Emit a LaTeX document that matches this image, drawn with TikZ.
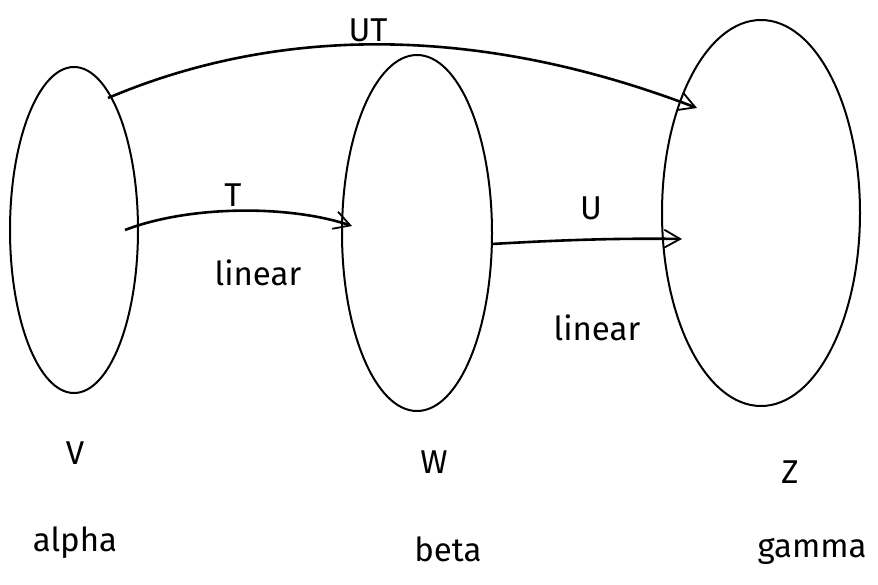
\documentclass[tikz,border=0pt]{standalone}
\usepackage{fontspec}
\setmainfont{Fira Sans}
\usetikzlibrary{shapes.geometric,arrows.meta}
\tikzset{
  setbox/.style={draw, line width=2pt, ellipse, inner sep=0pt},
  maparrow/.style={line width=2.6pt, -{Straight Barb[length=16pt,width=18pt,line width=1.8pt]}},
  lbl/.style={font=\fontsize{33}{38}\selectfont, inner sep=0pt}
}
\begin{document}
\begin{tikzpicture}[x=1pt,y=-1pt]
\useasboundingbox (0,0) rectangle (878,584);
\node[setbox, minimum width=128pt, minimum height=326pt] (V) at (74,230) {};
\node[setbox, minimum width=150pt, minimum height=356pt] (W) at (417,233) {};
\node[setbox, minimum width=198pt, minimum height=386pt] (Z) at (761,213) {};
\coordinate (ut1) at (108,98);
\coordinate (ut2) at (697,108);
\coordinate (t1) at (125,230);
\coordinate (t2) at (352,226);
\coordinate (u1) at (492,244);
\coordinate (u2) at (682,239);
\draw[maparrow] (ut1) .. controls (280,25) and (480,25) .. (ut2);
\draw[maparrow] (t1) .. controls (190,205) and (290,205) .. (t2);
\draw[maparrow] (u1) .. controls (560,240) and (620,238) .. (u2);
\node[lbl] (lut) at (368,30) {UT};
\node[lbl] (lt) at (233,195) {T};
\node[lbl] (llin1) at (258,273) {linear};
\node[lbl] (lu) at (591,208) {U};
\node[lbl] (llin2) at (597,328) {linear};
\node[lbl] (lv) at (75,453) {V};
\node[lbl] (lw) at (434,462) {W};
\node[lbl] (lz) at (790,472) {Z};
\node[lbl] (la) at (75,543) {alpha};
\node[lbl] (lb) at (448,549) {beta};
\node[lbl] (lg) at (812,551) {gamma};
\end{tikzpicture}
\end{document}
